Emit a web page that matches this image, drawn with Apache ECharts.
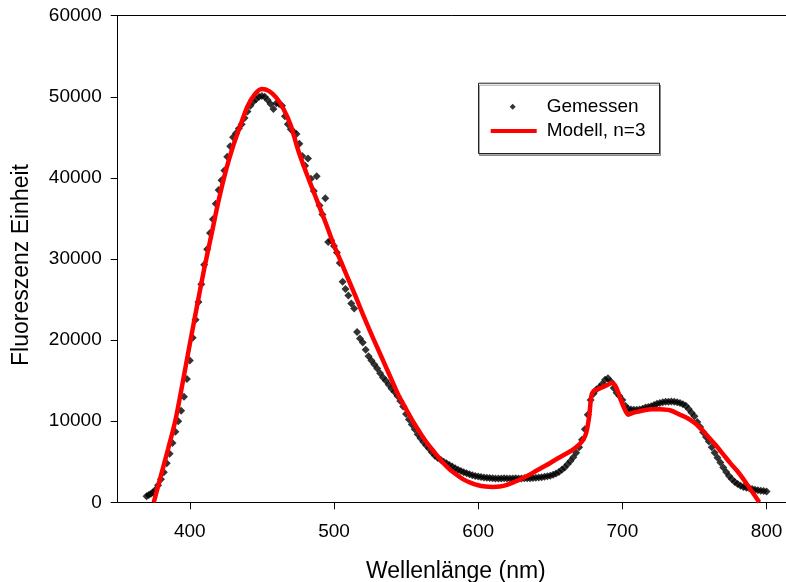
<!DOCTYPE html>
<html>
<head>
<meta charset="utf-8">
<script src="https://cdn.jsdelivr.net/npm/echarts@6/dist/echarts.min.js"></script>
<style>
html,body{margin:0;padding:0;background:#fff;}
#chart{width:786px;height:582px;}
</style>
</head>
<body>
<div id="chart"></div>
<script>
// Measured points (Gemessen)
const measWl = [370,371.5,373,374.5,376,378,380,382,384,386,388,390,392,394,396,398,400,402,404,406,408,410,412,414,416,418,420,422,424,426,428,430,432,434,436,438,440,442,444,446,448,450,452,454,456,458,460,462,464,466,468,470,472,474,476,478,480,482,484,486,488,490,492,494,496,498,500,502,504,506,508,510,512,514,516,518,520,522,524,526,528,530,532,534,536,538,540,542,544,546,548,550,552,554,556,558,560,562,564,566,568,570,572,574,576,578,580,582,584,586,588,590,592,594,596,598,600,602,604,606,608,610,612,614,616,618,620,622,624,626,628,630,632,634,636,638,640,642,644,646,648,650,652,654,656,658,660,662,664,666,668,670,672,674,676,678,680,682,684,686,688,690,692,694,696,698,700,702,704,706,708,710,712,714,716,718,720,722,724,726,728,730,732,734,736,738,740,742,744,746,748,750,752,754,756,758,760,762,764,766,768,770,772,774,776,778,780,782,784,786,788,790,792,794,796,798,800];
const measVal = [750,900,1050,1200,1520,2100,2850,3700,4800,6000,7300,8700,10000,11300,13000,15200,17500,20300,22500,24700,26900,29300,31200,33200,34900,36800,38500,39700,40900,42600,43900,45000,45500,46100,46600,47400,48200,48900,49400,49700,50000,50100,50000,49600,49100,48500,49200,49100,48900,47600,46600,46000,45700,45400,44200,42700,41500,42400,39900,38400,40200,36600,35500,37500,32100,32300,31600,30800,29500,27200,26300,25500,24500,23900,21000,20200,19700,18800,18000,17500,17000,16500,15900,15400,15000,14500,14000,13600,13100,12500,11800,10900,10200,9600,9000,8400,7900,7450,7000,6600,6150,5750,5450,5250,5000,4800,4600,4400,4200,4000,3850,3700,3580,3450,3350,3250,3180,3130,3070,3020,2990,2960,2950,2950,2950,2960,2950,2940,2950,2960,2950,2940,2960,2970,2980,3000,3030,3060,3100,3150,3200,3280,3400,3550,3750,4000,4300,4700,5100,5550,6100,6800,7700,9000,10800,12600,13400,13900,14200,14600,15100,15300,14900,14100,13500,13100,12600,11900,11550,11450,11400,11400,11450,11550,11700,11750,11850,12000,12150,12250,12350,12400,12400,12420,12400,12350,12250,12100,11900,11500,11050,10600,9900,9300,8650,8050,7500,6800,6100,5500,4900,4300,3750,3250,2850,2500,2250,2050,1900,1800,1730,1650,1550,1480,1420,1380,1320];

// Model curve (Modell, n=3)
const modelWl = [375,380,385,390,395,400,405,410,415,420,425,430,435,440,445,450,455,460,465,470,475,480,485,490,495,500,505,510,515,520,525,530,535,540,545,550,555,560,565,570,575,580,585,590,595,600,605,610,615,620,625,630,635,640,645,650,655,660,665,670,673,675,677,678.5,680,685,690,693,695,697,699,701,703,704,706,710,715,720,726,733,740,745,750,755,760,765,770,775,780,785,790,795];
const modelVal = [0,3300,6600,10100,14700,19500,24200,28800,33000,37200,40900,43900,46400,48800,50300,50950,50700,49900,48500,46500,43500,41000,38700,36400,34100,31700,29600,27500,25400,23200,21100,19100,17100,15100,13100,11500,9900,8500,7200,6100,5000,4100,3400,2800,2400,2100,1950,1900,1950,2150,2500,2900,3350,3850,4350,4850,5400,5900,6400,7100,7750,8600,10600,13100,13700,14100,14500,14750,14400,13600,12600,11700,11000,10800,10950,11150,11350,11480,11470,11350,10800,10400,9800,9000,8000,7000,5900,4800,3800,2600,1300,0];

const xTicks = [400,500,600,700,800];
const yMin = 0, yMax = 60000, yStep = 10000;
const xMin = 350, xMax = 813.5;

const FONT = "'Liberation Sans', Arial, sans-serif";

const chart = echarts.init(document.getElementById('chart'), null, {renderer:'canvas'});

const pairs = (xs, ys) => xs.map((x, i) => [x, ys[i]]);

const legendText = {fontFamily: FONT, fontSize: 19, color: '#000', lineHeight: 20};

chart.setOption({
  animation: false,
  backgroundColor: '#fff',
  textStyle: {fontFamily: FONT, color: '#000'},
  grid: {left: 117.7, right: 0, top: 15.7, bottom: 79.7, containLabel: false, outerBoundsMode: 'none'},
  graphic: [{
    type: 'rect', left: 478, top: 82.7, z: 5,
    shape: {width: 181, height: 70.3},
    style: {fill: '#fff', stroke: '#222', lineWidth: 1,
            shadowColor: 'rgba(0,0,0,0.35)', shadowOffsetX: 1, shadowOffsetY: 2, shadowBlur: 0}
  }],
  legend: [{
    orient: 'vertical', left: 509.7, top: 96.7, padding: 0, z: 10,
    itemWidth: 6, itemHeight: 6,
    textStyle: Object.assign({padding: [0,0,0,26]}, legendText),
    data: [{name: 'Gemessen', icon: 'diamond'}],
    selectedMode: false
  }, {
    orient: 'vertical', left: 490.7, top: 121, padding: 0, z: 10,
    itemWidth: 46, itemHeight: 4,
    textStyle: Object.assign({padding: [0,0,0,5]}, legendText),
    data: [{name: 'Modell, n=3', icon: 'rect'}],
    selectedMode: false
  }],
  xAxis: [{
    type: 'value', min: xMin, max: xMax, position: 'bottom',
    name: 'Wellenlänge (nm)', nameLocation: 'middle', nameGap: 58,
    nameTextStyle: {fontFamily: FONT, fontSize: 23, color: '#000', padding: [0,0,0,8]},
    axisLine: {show: true, onZero: false, lineStyle: {color: '#000', width: 1}},
    axisTick: {show: true, inside: false, length: 7, customValues: xTicks, lineStyle: {color: '#000'}},
    axisLabel: {show: true, margin: 20, fontFamily: FONT, fontSize: 19, color: '#000', customValues: xTicks,
                formatter: v => String(v)},
    splitLine: {show: false}
  }, {
    type: 'value', min: xMin, max: xMax, position: 'top',
    axisLine: {show: true, onZero: false, lineStyle: {color: '#000', width: 1}},
    axisTick: {show: false}, axisLabel: {show: false}, splitLine: {show: false}
  }],
  yAxis: {
    type: 'value', min: yMin, max: yMax, interval: yStep,
    name: 'Fluoreszenz Einheit', nameLocation: 'middle', nameGap: 85,
    nameTextStyle: {fontFamily: FONT, fontSize: 23, color: '#000', padding: [0,12,0,0]},
    axisLine: {show: true, onZero: false, lineStyle: {color: '#000', width: 1}},
    axisTick: {show: true, inside: false, length: 7, lineStyle: {color: '#000'}},
    axisLabel: {margin: 16, fontFamily: FONT, fontSize: 19, color: '#000', formatter: v => String(v)},
    splitLine: {show: false}
  },
  series: [{
    name: 'Gemessen', type: 'scatter', xAxisIndex: 0,
    symbol: 'diamond', symbolSize: 8,
    itemStyle: {color: '#000'},
    data: pairs(measWl, measVal), z: 2
  }, {
    name: 'Modell, n=3', type: 'line', xAxisIndex: 0,
    symbol: 'none', showSymbol: false, smooth: 0.3,
    lineStyle: {color: '#ff0000', width: 4.5},
    itemStyle: {color: '#ff0000'},
    data: pairs(modelWl, modelVal), z: 3
  }]
});
</script>
</body>
</html>
